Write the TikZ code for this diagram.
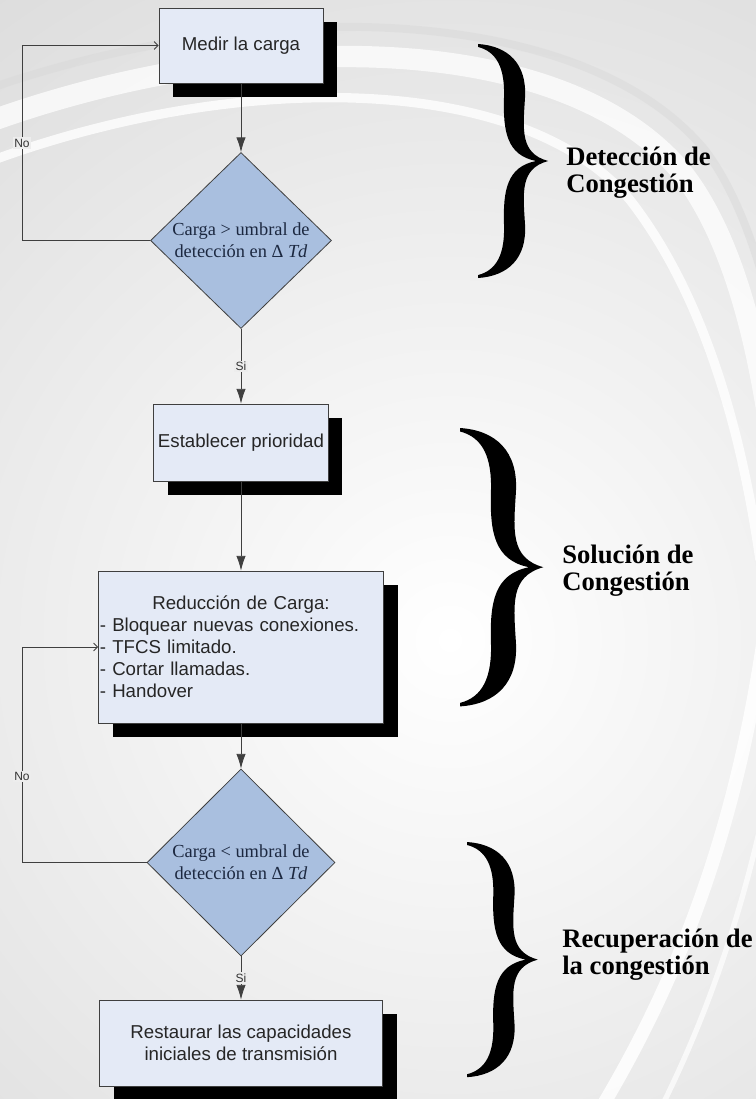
\documentclass[tikz,border=0pt]{standalone}
\usepackage{fontspec}
\setmainfont{Liberation Serif}
\setsansfont{Liberation Sans}
\usetikzlibrary{shapes.geometric,shadows,arrows.meta}
\definecolor{cajaazul}{HTML}{E4EAF6}
\definecolor{romboazul}{HTML}{A9BFDF}
\definecolor{borde}{HTML}{3F3F3F}
\definecolor{fondo}{HTML}{D4D4D4}
\definecolor{textorombo}{HTML}{1C2840}
\tikzset{
  caja/.style={draw=borde,fill=cajaazul,line width=0.6pt,text=black!85,
    font=\sffamily\fontsize{14}{16.5}\selectfont,
    drop shadow={shadow xshift=10.5pt,shadow yshift=-10.5pt,fill=black,opacity=1}},
  rombo/.style={diamond,draw=borde,fill=romboazul,line width=0.6pt,inner sep=0pt,
    align=center,text=textorombo,font=\fontsize{13.8}{16.5}\selectfont},
  flecha/.style={draw=borde,line width=0.6pt,-{Latex[length=11pt,width=7pt]}},
  retorno/.style={draw=borde,line width=0.6pt,-{Straight Barb[length=3pt,width=6pt]}},
  etiq/.style={font=\sffamily\fontsize{9}{10}\selectfont,fill=white!93!black,inner sep=1pt,text=black!80},
  seccion/.style={anchor=west,align=left,inner sep=0pt,font=\bfseries\fontsize{20}{20.25}\selectfont},
  llave/.pic={
    \fill[black] (0,0) .. controls (30,2) and (49,20) .. (47,55)
      .. controls (45,88) and (42,112) .. (70,120)
      .. controls (42,128) and (45,152) .. (47,185)
      .. controls (49,220) and (30,238) .. (0,240)
      -- (0,237) .. controls (19,232) and (27,215) .. (26,185)
      .. controls (25,150) and (29,126) .. (58,120)
      .. controls (29,114) and (25,90) .. (26,55)
      .. controls (27,25) and (19,8) .. (0,3) -- cycle;}
}
\begin{document}
\begin{tikzpicture}[x=0.75pt,y=-0.75pt]
\useasboundingbox (0,0) rectangle (756,1099);
% Vẽ nền
\begin{scope}
\clip (0,0) rectangle (756,1099);
\fill[fondo] (0,0) rectangle (756,1099);
\shade[inner color=white,outer color=fondo] (450,640) circle (1000);
\draw[white,line width=16pt,opacity=.75] (-20,125) .. controls (250,25) and (560,30) .. (680,170) .. controls (745,250) and (770,400) .. (780,520);
\draw[black!15,line width=6pt,opacity=.5] (-20,92) .. controls (250,-5) and (580,0) .. (705,150) .. controls (765,230) and (790,380) .. (800,500);
\draw[white,line width=7pt,opacity=.8] (-20,165) .. controls (230,70) and (520,70) .. (630,200) .. controls (700,290) and (740,420) .. (760,560);
\draw[white,line width=10pt,opacity=.85] (770,590) .. controls (745,800) and (690,960) .. (600,1110);
\draw[white,line width=4pt,opacity=.7] (790,660) .. controls (765,850) and (720,990) .. (660,1110);
\end{scope}
% Vẽ các khối
\node[caja,minimum width=123pt,minimum height=56.25pt] (medir) at (241,45.5) {Medir la carga};
\node[rombo,minimum width=135.75pt,minimum height=132pt] (det) at (241,240.5) {Carga > umbral de\\detección en Δ \textit{Td}};
\node[caja,minimum width=129.75pt,minimum height=57.75pt] (prio) at (241,442.5) {Establecer prioridad};
\node[caja,text width=211.75pt,inner xsep=1pt,minimum height=114pt,align=left] (reduc) at (241,647)
  {\makebox[\linewidth]{Reducción de Carga:}\\- Bloquear nuevas conexiones.\\- TFCS limitado.\\- Cortar llamadas.\\- Handover};
\node[rombo,minimum width=141pt,minimum height=140.25pt] (rec) at (241,862.5) {Carga < umbral de\\detección en Δ \textit{Td}};
\node[caja,minimum width=212.25pt,minimum height=64.5pt,align=center] (rest) at (241,1043) {Restaurar las capacidades\\iniciales de transmisión};
% Vẽ mũi tên
\coordinate (izq) at (22,0);
\draw[flecha] (medir) -- (det);
\draw[flecha] (det) -- node[etiq]{Si} (prio);
\draw[flecha] (prio) -- (reduc);
\draw[flecha] (reduc) -- (rec);
\draw[flecha] (rec) -- node[etiq]{Si} (rest);
\draw[retorno] (det.west) -- (det.west -| izq) |- node[etiq,pos=0.25]{No} (medir.west);
\draw[retorno] (rec.west) -- (rec.west -| izq) |- node[etiq,pos=0.2]{No} (reduc.west);
% Vẽ dấu ngoặc
\pic[yscale=0.975] at (478,44) {llave};
\pic[xscale=1.19,yscale=1.16] at (460,428) {llave};
\pic[xscale=1.01,yscale=0.98] at (467,842) {llave};
\node[seccion] (tdet) at (566,173) {Detección de\\Congestión};
\node[seccion] (tsol) at (562,571) {Solución de\\Congestión};
\node[seccion] (trec) at (562,955) {Recuperación de\\la congestión};
\end{tikzpicture}
\end{document}
